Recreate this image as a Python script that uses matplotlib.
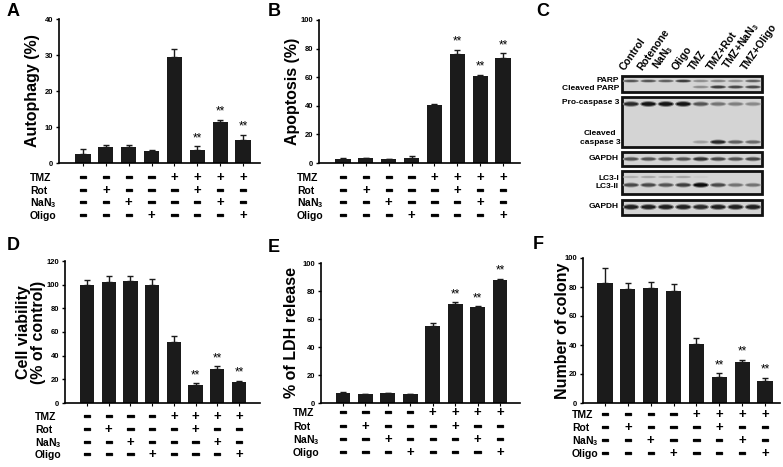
import numpy as np
import matplotlib
matplotlib.use('Agg')
import matplotlib.pyplot as plt
from matplotlib import transforms
from matplotlib import patheffects
from matplotlib.patches import Rectangle, Ellipse

plt.rcParams['font.family'] = ['Liberation Sans', 'DejaVu Sans']
plt.rcParams['font.weight'] = 'bold'
plt.rcParams['mathtext.fontset'] = 'custom'
plt.rcParams['mathtext.rm'] = 'Liberation Sans:bold'
plt.rcParams['mathtext.default'] = 'rm'

W, H = 783, 467

# ---- treatment table ----
row_names = ['TMZ', 'Rot', 'NaN$_3$', 'Oligo']
tmz = ['-', '-', '-', '-', '+', '+', '+', '+']
rot = ['-', '+', '-', '-', '-', '+', '-', '-']
nan3 = ['-', '-', '+', '-', '-', '-', '+', '-']
oligo = ['-', '-', '-', '+', '-', '-', '-', '+']
table = [tmz, rot, nan3, oligo]

# ---- bar data ----
autophagy = [2.5, 4.5, 4.5, 3.2, 29.5, 3.7, 11.5, 6.5]
autophagy_err = [1.3, 0.4, 0.4, 0.4, 2.2, 0.9, 0.5, 1.3]
apoptosis = [2.8, 3.2, 2.5, 3.3, 40.5, 76.5, 60.5, 73.5]
apoptosis_err = [0.5, 0.6, 0.3, 1.8, 1.0, 2.8, 1.0, 3.3]
viability = [100, 102, 103.5, 99.5, 51.5, 15.5, 29, 18]
viability_err = [4, 5, 4, 5.5, 5, 1, 2, 0.8]
ldh = [7.5, 6.3, 6.8, 6.3, 55, 71, 68.5, 88]
ldh_err = [0.4, 0.4, 0.1, 0.4, 2.5, 1, 0.5, 0.8]
colony = [82.5, 78.5, 79, 77.5, 41, 18, 28, 15.5]
colony_err = [10.5, 4.5, 4.5, 4.5, 4, 2.5, 2, 2]
star_idx = [5, 6, 7]

# ---- western blot ----
lanes = ['Control', 'Rotenone', 'NaN$_3$', 'Oligo', 'TMZ', 'TMZ+Rot', 'TMZ+NaN$_3$', 'TMZ+Oligo']
parp = [0.6, 0.6, 0.55, 0.7, 0.35, 0.4, 0.35, 0.55]
cl_parp = [0, 0, 0, 0, 0.35, 0.7, 0.65, 0.65]
pro_casp3 = [0.8, 0.9, 0.9, 0.9, 0.6, 0.45, 0.4, 0.35]
cl_casp3 = [0, 0, 0, 0, 0.25, 0.8, 0.55, 0.5]
gapdh1 = [0.6, 0.6, 0.6, 0.6, 0.75, 0.65, 0.6, 0.65]
lc3_1 = [0.2, 0.25, 0.2, 0.25, 0.05, 0, 0, 0]
lc3_2 = [0.65, 0.65, 0.6, 0.7, 0.95, 0.65, 0.45, 0.45]
gapdh2 = [0.85, 0.85, 0.85, 0.85, 0.8, 0.85, 0.85, 0.85]

fig = plt.figure(figsize=(W / 100, H / 100), dpi=100)
BAR = '#1b1b1b'
thick = [patheffects.withStroke(linewidth=0.9, foreground='#111111')]


def px_axes(x0, y0, x1, y1):
    return fig.add_axes([x0 / W, 1 - y1 / H, (x1 - x0) / W, (y1 - y0) / H])


def bar_panel(box, bar_x, vals, errs, ymax, ystep, ylabel, ylab_x, rows_y,
              rowlab_x, letter, letter_xy):
    x0, y0, x1, y1 = box
    ax = px_axes(*box)
    n = len(vals)
    idx = np.arange(n)
    step = (bar_x[1] - bar_x[0]) / (n - 1)
    ax.set_xlim(-(bar_x[0] - x0) / step, n - 1 + (x1 - bar_x[1]) / step)
    ax.set_ylim(0, ymax)
    ax.bar(idx, vals, width=0.66, color=BAR,
           yerr=[np.zeros(n), errs],
           error_kw=dict(ecolor=BAR, elinewidth=1, capsize=2.5, capthick=1))
    for i in star_idx:
        ax.text(i, vals[i] + errs[i] + ymax * 0.015, '**', ha='center',
                va='bottom', fontsize=8.5, fontweight='normal')
    for s in ['top', 'right']:
        ax.spines[s].set_visible(False)
    for s in ['left', 'bottom']:
        ax.spines[s].set_linewidth(1.2)
    ax.set_yticks(np.arange(0, ymax + 1, ystep))
    ax.set_xticks(idx)
    ax.set_xticklabels([])
    ax.tick_params(axis='y', length=2.5, width=1, labelsize=5.5, pad=1.5)
    ax.tick_params(axis='x', length=2, width=0.8)
    for t in ax.get_yticklabels():
        t.set_fontweight('bold')
    yc = 1 - (y0 + y1) / 2 / H
    fig.text(ylab_x / W, yc, ylabel, rotation=90, ha='center', va='center',
             fontsize=11.5, fontweight='bold', linespacing=1.0)
    tr = transforms.blended_transform_factory(ax.transData, fig.transFigure)
    for name, row, ry in zip(row_names, table, rows_y):
        fig.text(rowlab_x / W, 1 - ry / H, name, ha='left', va='center',
                 fontsize=7.5, fontweight='bold')
        for i, sym in enumerate(row):
            if sym == '-':
                ax.text(i, 1 - ry / H, '\u2212', transform=tr, ha='center',
                        va='center', fontsize=9, fontweight='bold',
                        path_effects=thick, clip_on=False)
            else:
                ax.text(i, 1 - ry / H, '+', transform=tr, ha='center',
                        va='center', fontsize=9.5, fontweight='bold',
                        clip_on=False)
    fig.text(letter_xy[0] / W, 1 - letter_xy[1] / H, letter, ha='left',
             va='center', fontsize=13, fontweight='bold')
    return ax


bar_panel((59, 19, 260, 163), (83, 243), autophagy, autophagy_err, 40, 10,
          'Autophagy (%)', 33, (178, 191, 203, 216), 30, 'A', (7, 11))
bar_panel((319, 20, 520, 163), (343, 503), apoptosis, apoptosis_err, 100, 20,
          'Apoptosis (%)', 293, (178, 191, 203, 216), 297, 'B', (268, 11))
bar_panel((65, 261, 260, 403), (87, 239), viability, viability_err, 120, 20,
          'Cell viability\n(% of control)', 31, (417, 430, 443, 455), 35, 'D',
          (7, 246))
bar_panel((321, 263, 520, 403), (343, 500), ldh, ldh_err, 100, 20,
          '% of LDH release', 292, (413, 427, 440, 453), 293, 'E', (268, 248))
bar_panel((583, 258, 780, 403), (605, 765), colony, colony_err, 100, 20,
          'Number of colony', 562, (415, 428, 441, 454), 572, 'F', (533, 245))

# ---- panel C: western blot drawn on a pixel-coordinate overlay ----
ov = fig.add_axes([0, 0, 1, 1])
ov.set_xlim(0, W)
ov.set_ylim(H, 0)
ov.axis('off')
ov.patch.set_alpha(0)

bl, br = 622, 762
lane_x = [bl + 9 + (br - bl - 18) / 7 * i for i in range(8)]
boxes = [(76, 92), (97, 147), (152, 166), (171, 194), (200, 215)]
for (t, b) in boxes:
    ov.add_patch(Rectangle((bl, t), br - bl, b - t, facecolor='#d4d4d4',
                           edgecolor='#111111', lw=2.0, zorder=1))
bands = [(parp, 81, 2.2), (cl_parp, 87, 2.4), (pro_casp3, 104, 3.4),
         (cl_casp3, 142, 3.0), (gapdh1, 159, 3.0), (lc3_1, 177, 2.0),
         (lc3_2, 185, 3.2), (gapdh2, 207, 3.6)]
for inten, yb, hb in bands:
    for x, v in zip(lane_x, inten):
        if v <= 0:
            continue
        g = 0.83 * (1 - v)
        gs = 0.83 - (0.83 - g) * 0.45
        ov.add_patch(Ellipse((x, yb), 16.5, hb * (1.1 + 0.7 * v),
                             facecolor=(gs, gs, gs), edgecolor='none',
                             zorder=2))
        ov.add_patch(Ellipse((x, yb), 14, hb * (0.6 + 0.5 * v),
                             facecolor=(g, g, g), edgecolor='none', zorder=3))

for x, name in zip(lane_x, lanes):
    ov.text(x - 5, 72, name, rotation=55, rotation_mode='anchor', ha='left',
            va='bottom', fontsize=7.5, fontweight='bold')

blot_labels = [('PARP', 80), ('Cleaved PARP', 88), ('Pro-caspase 3', 103),
               ('GAPDH', 159), ('LC3-I', 179), ('LC3-II', 187),
               ('GAPDH', 207)]
for txt, yy in blot_labels:
    ov.text(619, yy, txt, ha='right', va='center', fontsize=6.0,
            fontweight='bold')
ov.text(600, 138, 'Cleaved\ncaspase 3', ha='center', va='center',
        fontsize=6.0, fontweight='bold', linespacing=1.4)
ov.text(536, 11, 'C', ha='left', va='center', fontsize=13, fontweight='bold')

fig.savefig('out.png', dpi=100)
